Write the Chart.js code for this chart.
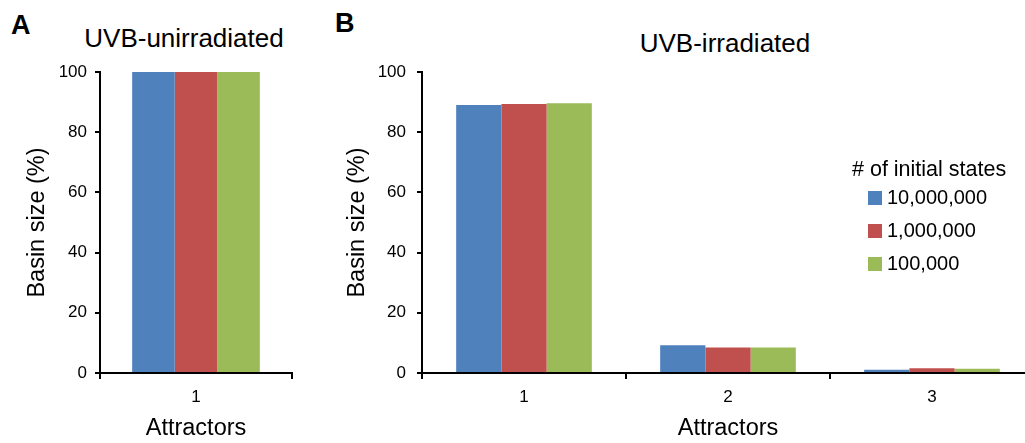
<!DOCTYPE html>
<html>
<head>
<meta charset="utf-8">
<script src="https://cdn.jsdelivr.net/npm/chart.js@4"></script>
<style>
  html, body { margin: 0; padding: 0; background: #fff; overflow: hidden; }
  body { width: 1025px; height: 443px; position: relative; font-family: "Liberation Sans", Arial, sans-serif; color: #000; }
  canvas { position: absolute; top: 0; }
  #chartA { left: 0; }
  #chartB { left: 330px; }
  .panel { position: absolute; font-weight: bold; font-size: 27px; line-height: 27px; }
  .title { position: absolute; font-size: 26px; line-height: 30px; transform: translateX(-50%); white-space: nowrap; }
  #legend { position: absolute; left: 852px; top: 157px; font-size: 20px; }
  #legend .head { line-height: 24px; font-size: 21.5px; white-space: nowrap; }
  #legend .item { display: flex; align-items: center; height: 33px; margin-left: 16px; }
  #legend .box { width: 14px; height: 14px; margin-right: 5px; }
</style>
</head>
<body>
<div class="panel" style="left:11px; top:12px;">A</div>
<div class="panel" style="left:335px; top:10px;">B</div>
<div class="title" style="left:184px; top:23px;">UVB-unirradiated</div>
<div class="title" style="left:725px; top:28px;">UVB-irradiated</div>
<canvas id="chartA" width="300" height="443"></canvas>
<canvas id="chartB" width="704" height="443"></canvas>
<div id="legend"><div class="head"># of initial states</div></div>
<script>
// 데이터
const categoriesA = ['1'];
const categoriesB = ['1', '2', '3'];
const seriesNames = ['10,000,000', '1,000,000', '100,000'];
const seriesColors = ['#4F81BD', '#C0504D', '#9BBB59'];

// UVB-unirradiated
const unirr10M = [100];
const unirr1M = [100];
const unirr100k = [100];

// UVB-irradiated
const irr10M = [89.0, 9.2, 1.1];
const irr1M = [89.4, 8.5, 1.6];
const irr100k = [89.6, 8.5, 1.4];

const yTicks = [0, 20, 40, 60, 80, 100];

Chart.defaults.font.family = '"Liberation Sans", Arial, sans-serif';
Chart.defaults.color = '#000';

function makeDatasets(values) {
    return values.map((v, i) => ({
        label: seriesNames[i],
        data: v,
        backgroundColor: seriesColors[i],
        borderWidth: 0,
        barPercentage: 1.0,
        categoryPercentage: 0.665
    }));
}

function makeOptions(yWidth, yTitlePad, yTickPad, rightPad) {
    return {
        responsive: false,
        animation: false,
        layout: { padding: { top: 72, right: rightPad, left: 0, bottom: 0 } },
        plugins: {
            legend: { display: false },
            tooltip: { enabled: false }
        },
        scales: {
            x: {
                grid: { display: true, drawOnChartArea: false, offset: true, color: '#000', lineWidth: 2, tickLength: 6 },
                border: { display: true, color: '#000', width: 2 },
                ticks: { font: { size: 17 }, color: '#000', padding: 8, maxRotation: 0 },
                title: { display: true, text: 'Attractors', font: { size: 23.5 }, color: '#000', padding: { top: 0, bottom: 0 } },
                afterFit: function(scale) { scale.height = 70; }
            },
            y: {
                min: 0,
                max: 100,
                afterBuildTicks: function(scale) {
                    scale.ticks = yTicks.map(v => ({ value: v }));
                },
                grid: { display: true, drawOnChartArea: false, color: '#000', lineWidth: 2, tickLength: 5 },
                border: { display: true, color: '#000', width: 2 },
                ticks: { font: { size: 17 }, color: '#000', padding: yTickPad },
                title: { display: true, text: 'Basin size (%)', font: { size: 23.5 }, color: '#000', padding: { top: yTitlePad, bottom: 0 } },
                afterFit: function(scale) { scale.width = yWidth; }
            }
        }
    };
}

new Chart(document.getElementById('chartA').getContext('2d'), {
    type: 'bar',
    data: {
        labels: categoriesA,
        datasets: makeDatasets([unirr10M, unirr1M, unirr100k])
    },
    options: makeOptions(100, 23, 8, 8)
});

new Chart(document.getElementById('chartB').getContext('2d'), {
    type: 'bar',
    data: {
        labels: categoriesB,
        datasets: makeDatasets([irr10M, irr1M, irr100k])
    },
    options: makeOptions(92, 13, 11, 0)
});

// 범례 (HTML)
const legendEl = document.getElementById('legend');
seriesNames.forEach((name, i) => {
    const item = document.createElement('div');
    item.className = 'item';
    item.innerHTML = '<span class="box" style="background:' + seriesColors[i] + '"></span><span>' + name + '</span>';
    legendEl.appendChild(item);
});
</script>
</body>
</html>
